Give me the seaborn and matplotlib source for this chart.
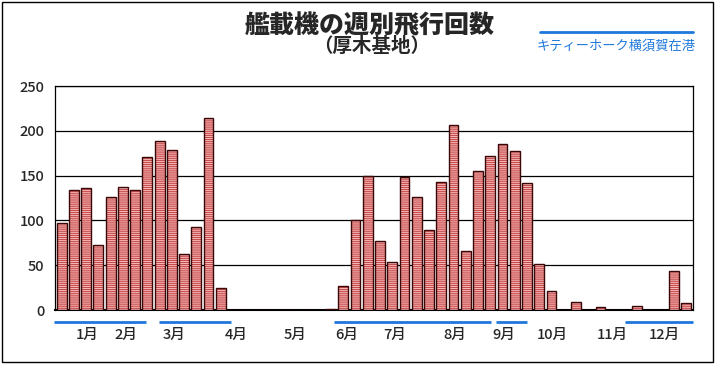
import matplotlib
matplotlib.use("Agg")
import matplotlib.pyplot as plt
from matplotlib.patches import Rectangle
from matplotlib.transforms import blended_transform_factory
import seaborn as sns

# weekly sorties (52 weeks)
week_counts = [
    97, 134, 136, 73, 126, 137, 134, 171, 189, 179, 62, 93, 214, 25,
    0, 0, 0, 0, 0, 0, 0, 0,
    1, 27, 100, 149, 77, 54, 148, 126, 89, 143, 206, 66, 155, 172, 185, 177, 142,
    51, 21, 0, 9, 0, 3, 0, 0, 4, 0, 0, 43, 8,
]
weeks = list(range(len(week_counts)))

# month boundaries (in week units) and label positions
month_edges = [-0.47, 3.78, 7.86, 12.19, 16.84, 21.0, 25.09, 29.74, 33.82, 38.47, 42.96, 46.8, 51.53]
month_labels = ["1月", "2月", "3月", "4月", "5月", "6月", "7月", "8月", "9月", "10月", "11月", "12月"]
month_label_pos = [2.07, 5.25, 9.17, 14.22, 19.1, 23.29, 27.2, 32.1, 36.1, 40.1, 45.0, 49.2]

# Kitty Hawk in port at Yokosuka (start, end in week units)
port_start = [-0.63, 7.94, 22.2, 35.45, 45.98]
port_end = [6.88, 13.82, 35.04, 37.98, 51.53]

y_ticks = [0, 50, 100, 150, 200, 250]

BLUE = "#1E78DC"

sns.set_theme(style="white")
plt.rcParams["font.family"] = ["Noto Sans CJK JP", "DejaVu Sans"]
plt.rcParams["hatch.linewidth"] = 0.7

fig = plt.figure(figsize=(7.17, 3.66), dpi=100)
ax = fig.add_axes([55.5 / 717, 1 - 310 / 366, (693 - 55.5) / 717, (310 - 86) / 366])

# striped bar fill
sns.barplot(x=weeks, y=week_counts, color="#DC3434", edgecolor="#F6BDBD",
            hatch="--------", linewidth=0, width=0.8, ax=ax, zorder=3)
# dark outline
sns.barplot(x=weeks, y=week_counts, fill=False, color="#3A0808",
            linewidth=1.0, width=0.8, ax=ax, zorder=4)

ax.set_xlim(-0.5, 51.55)
ax.set_ylim(0, 250)
ax.set_yticks(y_ticks)
ax.set_yticklabels([str(v) for v in y_ticks], fontsize=10.5, fontweight="medium")
ax.tick_params(axis="y", length=0, pad=8)
ax.set_xticks(month_edges)
ax.set_xticklabels([])
ax.tick_params(axis="x", length=5, width=1.3, direction="out", color="black")
ax.yaxis.grid(True, color="black", linewidth=0.9, zorder=0)
ax.xaxis.grid(False)
ax.set_axisbelow(True)
for side in ["left", "right", "top"]:
    ax.spines[side].set_color("black")
    ax.spines[side].set_linewidth(0.9)
ax.spines["bottom"].set_color("black")
ax.spines["bottom"].set_linewidth(1.5)
ax.set_xlabel("")
ax.set_ylabel("")

trans = blended_transform_factory(ax.transData, ax.transAxes)
for lab, pos in zip(month_labels, month_label_pos):
    ax.text(pos, -0.112, lab, transform=trans, ha="center", va="center",
            fontsize=10.5, fontweight="medium", clip_on=False)
for s, e in zip(port_start, port_end):
    ax.plot([s, e], [-0.054, -0.054], transform=trans, color=BLUE,
            linewidth=2, clip_on=False, solid_capstyle="butt")

# titles
fig.text(0.516, 0.932, "艦載機の週別飛行回数", ha="center", va="center",
         fontsize=18, fontweight="heavy")
fig.text(0.519, 0.872, "（厚木基地）", ha="center", va="center",
         fontsize=14, fontweight="bold")

# legend
fig.add_artist(plt.Line2D([540 / 717, 693 / 717], [1 - 32 / 366, 1 - 32 / 366],
                          color=BLUE, linewidth=2))
fig.text(616.5 / 717, 1 - 46 / 366, "キティーホーク横須賀在港", ha="center",
         va="center", fontsize=9.5, color=BLUE)

# outer frame
fig.add_artist(Rectangle((2 / 717, 4 / 366), 711 / 717, 360 / 366,
                         transform=fig.transFigure, fill=False,
                         edgecolor="black", linewidth=1))

fig.savefig("out.png", dpi=100)
